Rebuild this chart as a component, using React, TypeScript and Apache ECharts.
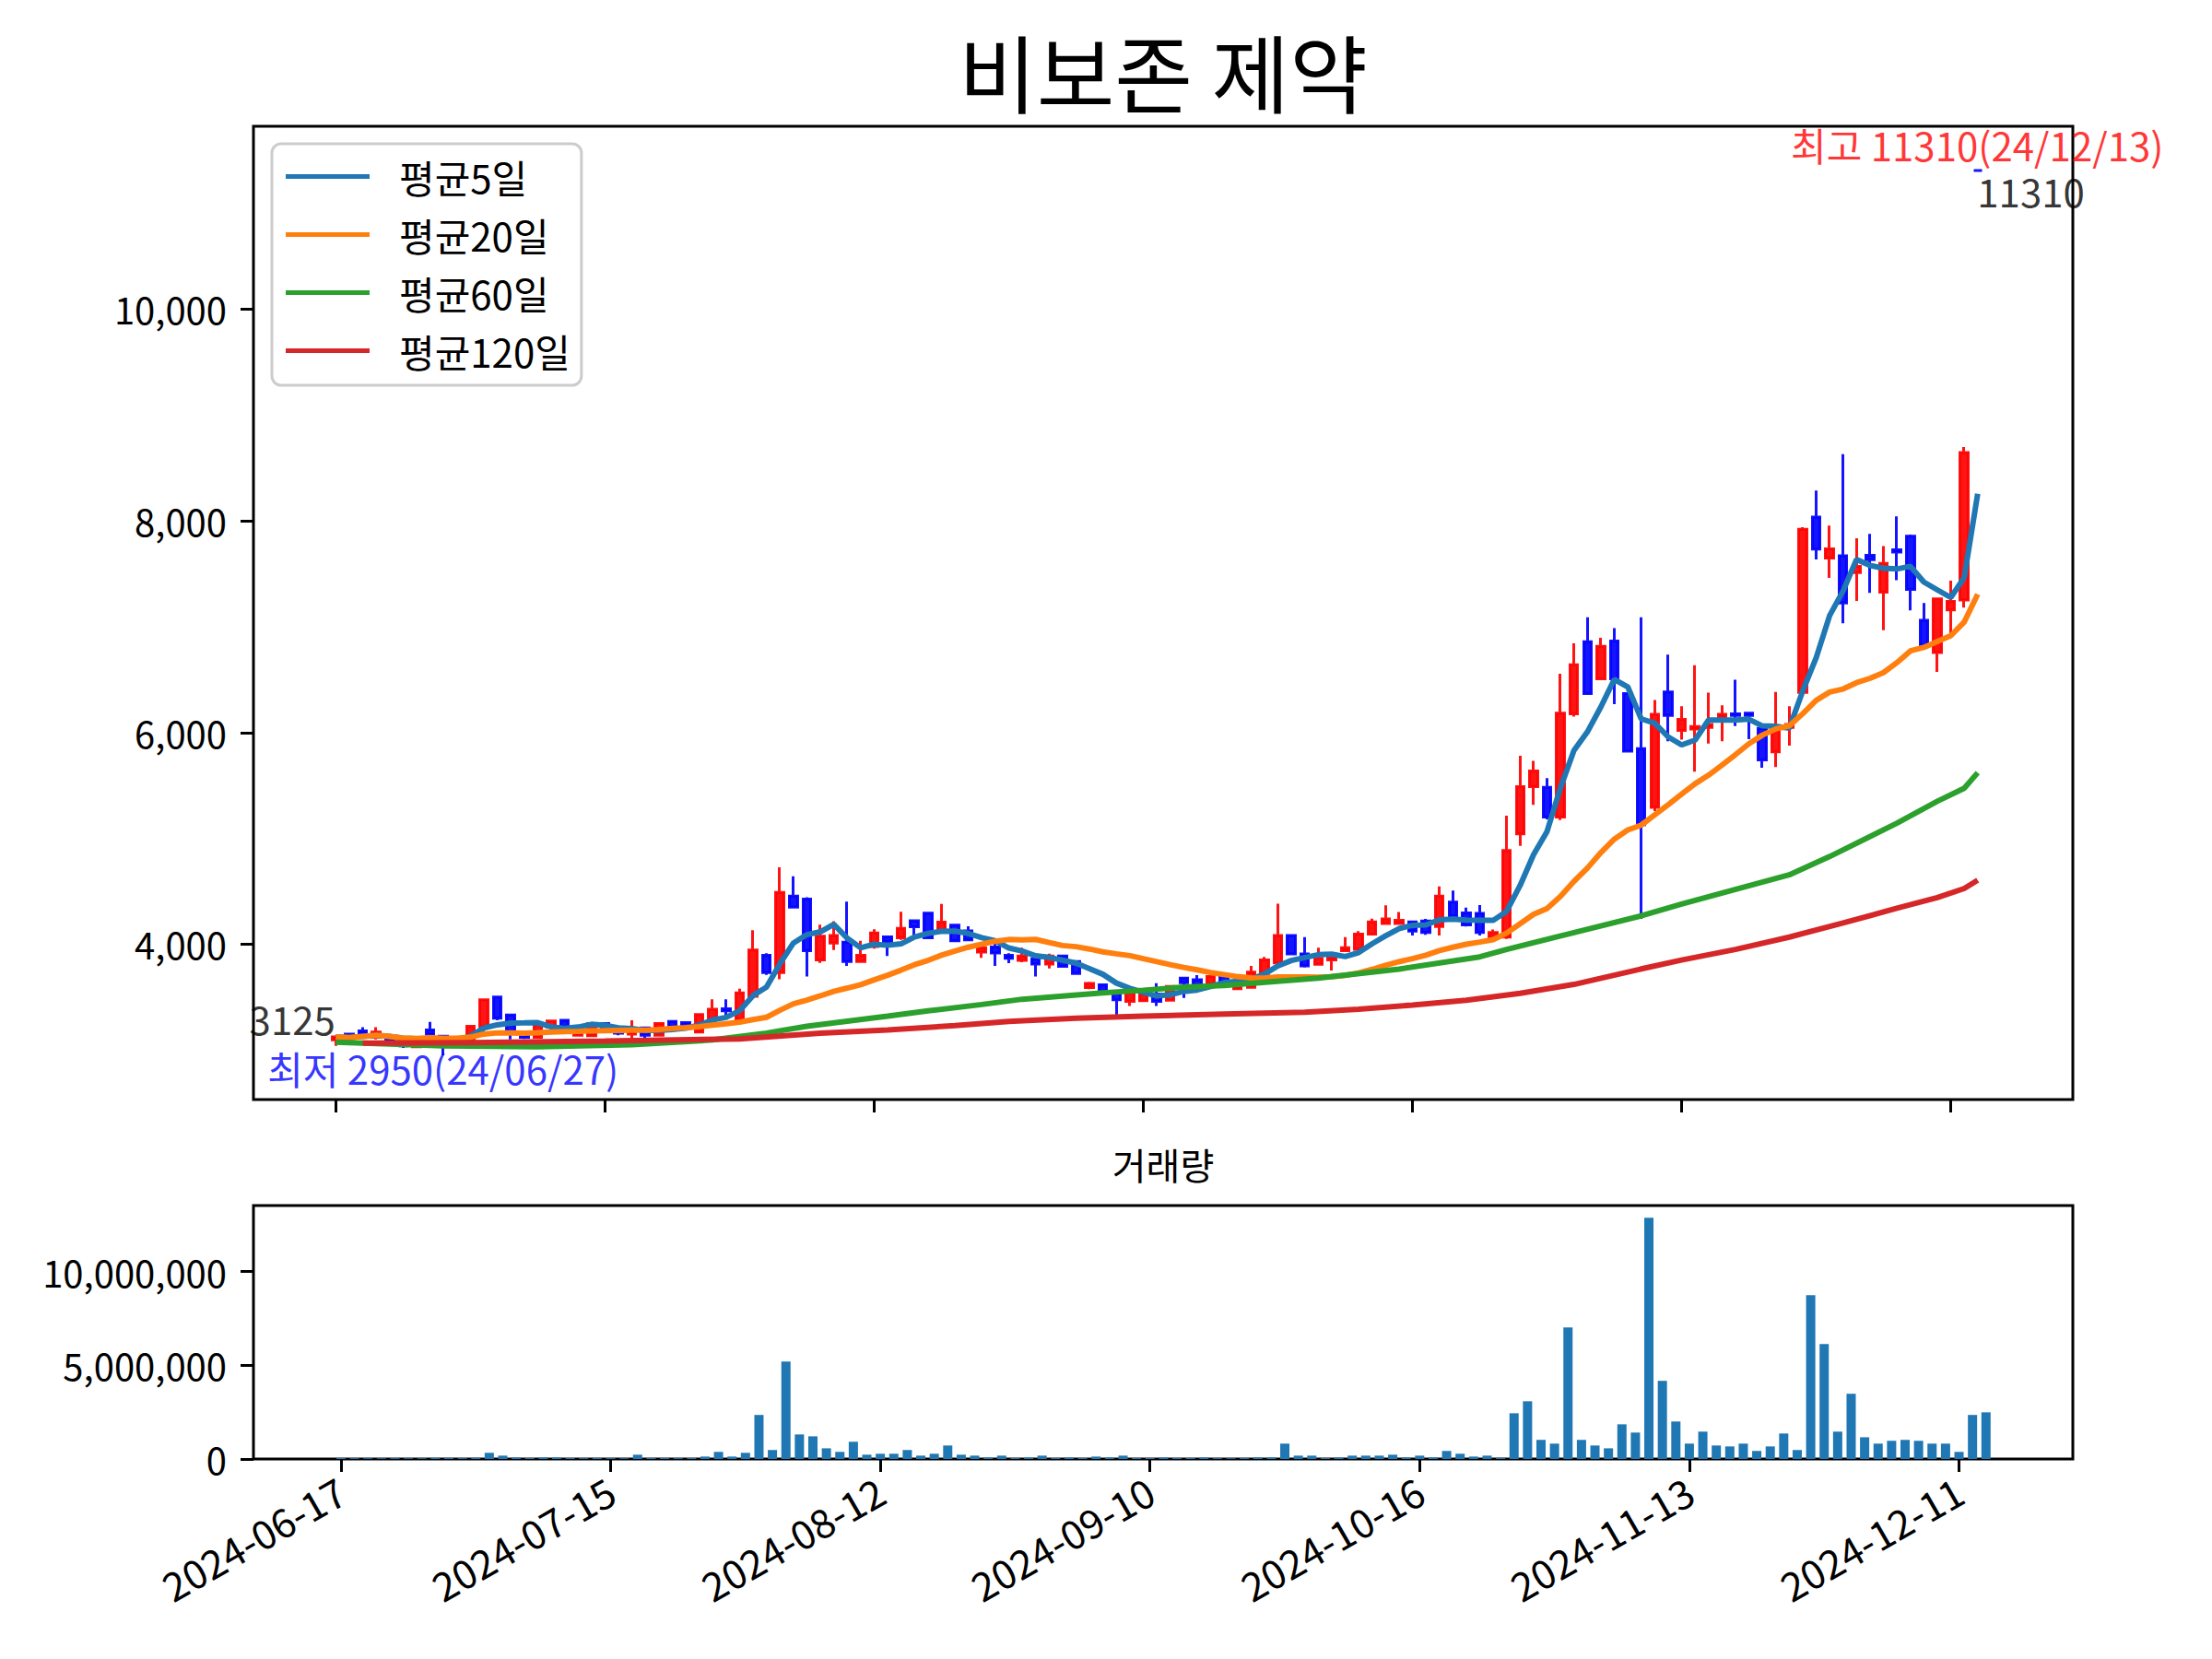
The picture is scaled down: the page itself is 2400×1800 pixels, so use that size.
import React, { useEffect, useRef } from "react";
import * as echarts from "echarts";

// x positions are trading-day indices; ticks every 20 sessions
const tickIndex = [0, 20, 40, 60, 80, 100, 120];
const tickLabels = [
  "2024-06-17",
  "2024-07-15",
  "2024-08-12",
  "2024-09-10",
  "2024-10-16",
  "2024-11-13",
  "2024-12-11",
];
const priceTicks = [4000, 6000, 8000, 10000];
const volumeTicks = [0, 5000000, 10000000];

const opens = [
  3095, 3150, 3180, 3120, 3113, 3084, 3030, 3190, 3130, 3080,
  3100, 3225, 3500, 3330, 3150, 3120, 3215, 3280, 3140, 3135,
  3250, 3180, 3150, 3210, 3140, 3270, 3260, 3170, 3290, 3390,
  3290, 3508, 3895, 3731, 4455, 4426, 3852, 4011, 4018, 3837,
  3978, 4069, 4061, 4222, 4294, 4126, 4179, 4126, 3926, 3974,
  3895, 3846, 3860, 3813, 3888, 3837, 3590, 3617, 3545, 3459,
  3467, 3530, 3470, 3680, 3665, 3622, 3708, 3579, 3593, 3722,
  3823, 4081, 3909, 3809, 3852, 3938, 3952, 4096, 4196, 4196,
  4210, 4219, 4167, 4397, 4296, 4290, 4067, 4067, 5043, 5488,
  5482, 5201, 6176, 6857, 6507, 6865, 6369, 5847, 5292, 6383,
  6019, 6033, 6047, 6148, 6176, 6182, 6039, 5818, 6047, 6378,
  8036, 7649, 7669, 7511, 7675, 7325, 7727, 7856, 7061, 6756,
  7158, 7253, 11310,
];
const closes = [
  3125, 3110, 3150, 3170, 3084, 3040, 3090, 3150, 3080, 3110,
  3225, 3475, 3300, 3160, 3120, 3240, 3275, 3225, 3225, 3250,
  3190, 3160, 3190, 3140, 3250, 3225, 3225, 3335, 3385, 3370,
  3540, 3944, 3731, 4489, 4349, 3938, 4076, 4083, 3837, 3895,
  4107, 4026, 4150, 4165, 4061, 4208, 4032, 4040, 3966, 3917,
  3866, 3888, 3813, 3888, 3791, 3722, 3630, 3545, 3474, 3545,
  3530, 3459, 3600, 3636, 3608, 3694, 3651, 3651, 3737, 3852,
  4081, 3909, 3794, 3866, 3880, 3966, 4096, 4210, 4239, 4225,
  4124, 4110, 4454, 4268, 4182, 4110, 4110, 4885, 5488, 5637,
  5201, 6182, 6641, 6369, 6814, 6507, 5824, 5129, 6171, 6162,
  6125, 6056, 6076, 6171, 6162, 6162, 5740, 6062, 6076, 7920,
  7732, 7735, 7224, 7569, 7632, 7597, 7704, 7353, 6822, 7262,
  7238, 8645, 11310,
];
const highs = [
  3140, 3160, 3215, 3215, 3120, 3090, 3100, 3265, 3140, 3120,
  3235, 3480, 3510, 3335, 3160, 3250, 3285, 3285, 3235, 3260,
  3255, 3190, 3280, 3215, 3260, 3280, 3265, 3345, 3480, 3480,
  3580, 4133, 3915, 4727, 4641, 4443, 4185, 4218, 4403, 4032,
  4141, 4075, 4307, 4230, 4300, 4380, 4185, 4169, 3980, 4047,
  3915, 3966, 3870, 3910, 3895, 3845, 3645, 3625, 3550, 3555,
  3540, 3632, 3610, 3690, 3708, 3700, 3715, 3660, 3794, 3880,
  4383, 4090, 4067, 3966, 3909, 4067, 4124, 4240, 4368, 4305,
  4215, 4239, 4546, 4506, 4345, 4370, 4138, 5215, 5780, 5732,
  5568, 6555, 6842, 7089, 6894, 6986, 6380, 7089, 6306, 6736,
  6248, 6636, 6377, 6257, 6498, 6190, 6050, 6383, 6248, 7940,
  8286, 7956, 8630, 7836, 7876, 7761, 8042, 7870, 7224, 7270,
  7434, 8697, 11310,
];
const lows = [
  3040, 3100, 3140, 3100, 3075, 3020, 3020, 3140, 2950, 3070,
  3090, 3130, 3280, 3100, 3105, 3110, 3200, 3215, 3130, 3125,
  3180, 3140, 3110, 3100, 3135, 3215, 3215, 3160, 3280, 3300,
  3280, 3500, 3710, 3668, 4340, 3694, 3823, 3944, 3794, 3830,
  3957, 3888, 4040, 4069, 4055, 4112, 4025, 4030, 3870, 3794,
  3820, 3830, 3694, 3770, 3785, 3715, 3575, 3540, 3330, 3416,
  3460, 3416, 3460, 3493, 3600, 3610, 3640, 3570, 3585, 3710,
  3810, 3900, 3780, 3800, 3751, 3930, 3940, 4090, 4190, 4190,
  4081, 4088, 4081, 4260, 4167, 4081, 4060, 4050, 4928, 5316,
  5180, 5172, 6150, 6369, 6500, 6268, 5810, 4239, 5258, 5918,
  5932, 5631, 5895, 5918, 6062, 5938, 5666, 5674, 5875, 6340,
  7635, 7462, 7032, 7244, 7319, 6966, 7440, 7153, 6810, 6573,
  6895, 7181, 11310,
];
const volumes = [
  50000, 45000, 40000, 40000, 45000, 40000, 40000, 55000, 60000, 45000,
  60000, 330000, 180000, 80000, 50000, 80000, 80000, 50000, 45000, 50000,
  45000, 40000, 230000, 50000, 50000, 45000, 50000, 130000, 380000, 130000,
  330000, 2350000, 480000, 5200000, 1310000, 1210000, 570000, 380000, 920000, 230000,
  280000, 280000, 480000, 180000, 280000, 720000, 230000, 180000, 80000, 180000,
  50000, 80000, 180000, 50000, 80000, 50000, 130000, 80000, 180000, 50000,
  50000, 80000, 50000, 50000, 80000, 45000, 40000, 50000, 80000, 80000,
  820000, 180000, 180000, 50000, 80000, 180000, 180000, 180000, 230000, 80000,
  180000, 80000, 430000, 280000, 130000, 180000, 60000, 2440000, 3080000, 1020000,
  820000, 7020000, 1020000, 720000, 570000, 1850000, 1410000, 12870000, 4170000, 2000000,
  820000, 1460000, 720000, 670000, 820000, 430000, 670000, 1360000, 480000, 8740000,
  6130000, 1460000, 3480000, 1160000, 820000, 970000, 1020000, 970000, 820000, 820000,
  380000, 2350000, 2490000,
];

const ma60Points: [number, number][] = [
  [0, 3075], [8, 3040], [15, 3030], [22, 3050], [28, 3095], [32, 3160],
  [35, 3225], [41, 3320], [44, 3370], [48, 3430], [51, 3480], [57, 3540],
  [60, 3565], [63, 3595], [66, 3610], [73, 3680], [79, 3765], [85, 3880],
  [87, 3950], [92, 4110], [97, 4268], [100, 4380], [108, 4655], [111, 4828],
  [116, 5143], [119, 5350], [121, 5473], [122, 5620],
];
const ma120Points: [number, number][] = [
  [2, 3065], [10, 3070], [20, 3085], [30, 3105], [36, 3160], [41, 3190],
  [46, 3230], [50, 3270], [55, 3300], [60, 3320], [66, 3340], [72, 3358],
  [76, 3385], [80, 3425], [84, 3470], [88, 3536], [92, 3620], [97, 3766],
  [100, 3850], [104, 3950], [108, 4067], [112, 4200], [116, 4340], [119, 4440],
  [121, 4526], [122, 4604],
];

const lowDate = "24/06/27";
const highDate = "24/12/13";

const FONT = "'Noto Sans CJK KR', 'Noto Sans', sans-serif";
const UP = "rgba(255,0,0,0.92)";
const DOWN = "rgba(0,0,255,0.92)";

function movingAverage(values: number[], n: number) {
  return values.map((_, i) => {
    const win = values.slice(Math.max(0, i - n + 1), i + 1);
    return win.reduce((a, b) => a + b, 0) / win.length;
  });
}

function tickStyle() {
  return { show: true, length: 14, lineStyle: { color: "#000", width: 3 } };
}

export default function App() {
  const ref = useRef<HTMLDivElement>(null);

  useEffect(() => {
    if (!ref.current) return;
    const chart = echarts.init(ref.current, undefined, { renderer: "svg" });

    const ma5 = movingAverage(closes, 5);
    const ma20 = movingAverage(closes, 20);
    const minLow = Math.min(...lows);
    const lowIdx = lows.indexOf(minLow);
    const maxHigh = Math.max(...highs);
    const highIdx = highs.indexOf(maxHigh);
    const last = closes.length - 1;

    const fmt = (v: number) => Number(v).toLocaleString("en-US");
    const noteLabel = (text: string, color: string, align: string, vAlign: string, dy = 0) => ({
      show: true,
      formatter: text,
      position: [0, dy],
      align,
      verticalAlign: vAlign,
      color,
      fontSize: 42,
      lineHeight: 32,
      fontFamily: FONT,
    });
    const hiddenLine = { show: false, onZero: false };

    const option: any = {
      animation: false,
      textStyle: { fontFamily: FONT },
      grid: [
        { left: 275, top: 137, width: 1974, height: 1056, show: true, borderColor: "#000", borderWidth: 3 },
        { left: 275, top: 1308, width: 1974, height: 275, show: true, borderColor: "#000", borderWidth: 3 },
      ],
      xAxis: [
        {
          type: "value",
          gridIndex: 0,
          min: -6.12,
          max: 129.07,
          axisLine: hiddenLine,
          splitLine: { show: false },
          axisTick: { ...tickStyle(), customValues: tickIndex },
          axisLabel: { show: false, customValues: tickIndex },
        },
        {
          type: "value",
          gridIndex: 1,
          min: -6.49,
          max: 128.44,
          axisLine: hiddenLine,
          splitLine: { show: false },
          axisTick: { ...tickStyle(), customValues: tickIndex },
          axisLabel: {
            customValues: tickIndex,
            rotate: 30,
            margin: 30,
            fontSize: 43,
            color: "#000",
            fontFamily: FONT,
            formatter: (v: number) => tickLabels[tickIndex.indexOf(Math.round(v))] ?? "",
          },
        },
      ],
      yAxis: [
        {
          type: "value",
          gridIndex: 0,
          min: 2532,
          max: 11728,
          axisLine: hiddenLine,
          splitLine: { show: false },
          axisTick: { ...tickStyle(), customValues: priceTicks },
          axisLabel: { customValues: priceTicks, formatter: fmt, fontSize: 40, color: "#000", margin: 29, fontFamily: FONT },
        },
        {
          type: "value",
          gridIndex: 1,
          min: 0,
          max: 13520000,
          axisLine: hiddenLine,
          splitLine: { show: false },
          axisTick: { ...tickStyle(), customValues: volumeTicks },
          axisLabel: { customValues: volumeTicks, formatter: fmt, fontSize: 40, color: "#000", margin: 29, fontFamily: FONT },
        },
      ],
      legend: {
        data: ["평균5일", "평균20일", "평균60일", "평균120일"],
        orient: "vertical",
        left: 295,
        top: 156,
        padding: [14, 12, 16, 15],
        itemWidth: 91,
        itemHeight: 5,
        itemGap: 20,
        icon: "rect",
        selectedMode: false,
        backgroundColor: "rgba(255,255,255,0.8)",
        borderColor: "#cccccc",
        borderWidth: 3,
        borderRadius: 10,
        textStyle: { fontSize: 42, lineHeight: 43, color: "#000", fontFamily: FONT, padding: [0, 0, 0, 27] },
      },
      graphic: [
        {
          type: "text",
          x: 1262,
          y: 75,
          style: { text: "비보존 제약", fontSize: 92, fontFamily: FONT, fill: "#000", align: "center", verticalAlign: "middle" },
        },
        {
          type: "text",
          x: 1262,
          y: 1263,
          style: { text: "거래량", fontSize: 40, fontFamily: FONT, fill: "#000", align: "center", verticalAlign: "middle" },
        },
      ],
      series: [
        {
          type: "candlestick",
          xAxisIndex: 0,
          yAxisIndex: 0,
          barWidth: 9,
          encode: { x: 0, y: [1, 2, 3, 4] },
          itemStyle: { borderWidth: 3 },
          data: opens.map((o, i) => {
            const c = closes[i] > o ? UP : DOWN;
            return {
              value: [i, o, closes[i], lows[i], highs[i]],
              itemStyle: { color: c, color0: c, borderColor: c, borderColor0: c },
            };
          }),
        },
        {
          name: "평균5일",
          type: "line",
          xAxisIndex: 0,
          yAxisIndex: 0,
          symbol: "none",
          data: ma5.map((v, i) => [i, v]),
          lineStyle: { color: "#1f77b4", width: 6 },
          itemStyle: { color: "#1f77b4" },
        },
        {
          name: "평균20일",
          type: "line",
          xAxisIndex: 0,
          yAxisIndex: 0,
          symbol: "none",
          data: ma20.map((v, i) => [i, v]),
          lineStyle: { color: "#ff7f0e", width: 6 },
          itemStyle: { color: "#ff7f0e" },
        },
        {
          name: "평균60일",
          type: "line",
          xAxisIndex: 0,
          yAxisIndex: 0,
          symbol: "none",
          data: ma60Points,
          lineStyle: { color: "#2ca02c", width: 6 },
          itemStyle: { color: "#2ca02c" },
        },
        {
          name: "평균120일",
          type: "line",
          xAxisIndex: 0,
          yAxisIndex: 0,
          symbol: "none",
          data: ma120Points,
          lineStyle: { color: "#d62728", width: 6 },
          itemStyle: { color: "#d62728" },
        },
        {
          type: "scatter",
          xAxisIndex: 0,
          yAxisIndex: 0,
          symbolSize: 1,
          silent: true,
          itemStyle: { color: "rgba(0,0,0,0)" },
          data: [
            { value: [highIdx, maxHigh], label: noteLabel(`최고 ${maxHigh}(${highDate})`, "#ff0000", "center", "bottom", -12) },
            { value: [last, closes[last]], label: noteLabel(`${closes[last]}`, "#000", "left", "top", 6) },
            { value: [0, closes[0]], label: noteLabel(`${closes[0]}`, "#000", "right", "bottom", -4) },
            { value: [lowIdx, minLow], label: noteLabel(`최저 ${minLow}(${lowDate})`, "#0000ff", "center", "top", -2) },
          ],
        },
        {
          type: "bar",
          xAxisIndex: 1,
          yAxisIndex: 1,
          barWidth: 10,
          data: volumes.map((v, i) => [i, v]),
          itemStyle: { color: "#1f77b4" },
        },
      ],
    };

    chart.setOption(option);
    return () => chart.dispose();
  }, []);

  return (
    <div
      ref={ref}
      style={{ position: "fixed", left: 0, top: 0, width: 2400, height: 1800, background: "#fff" }}
    />
  );
}
